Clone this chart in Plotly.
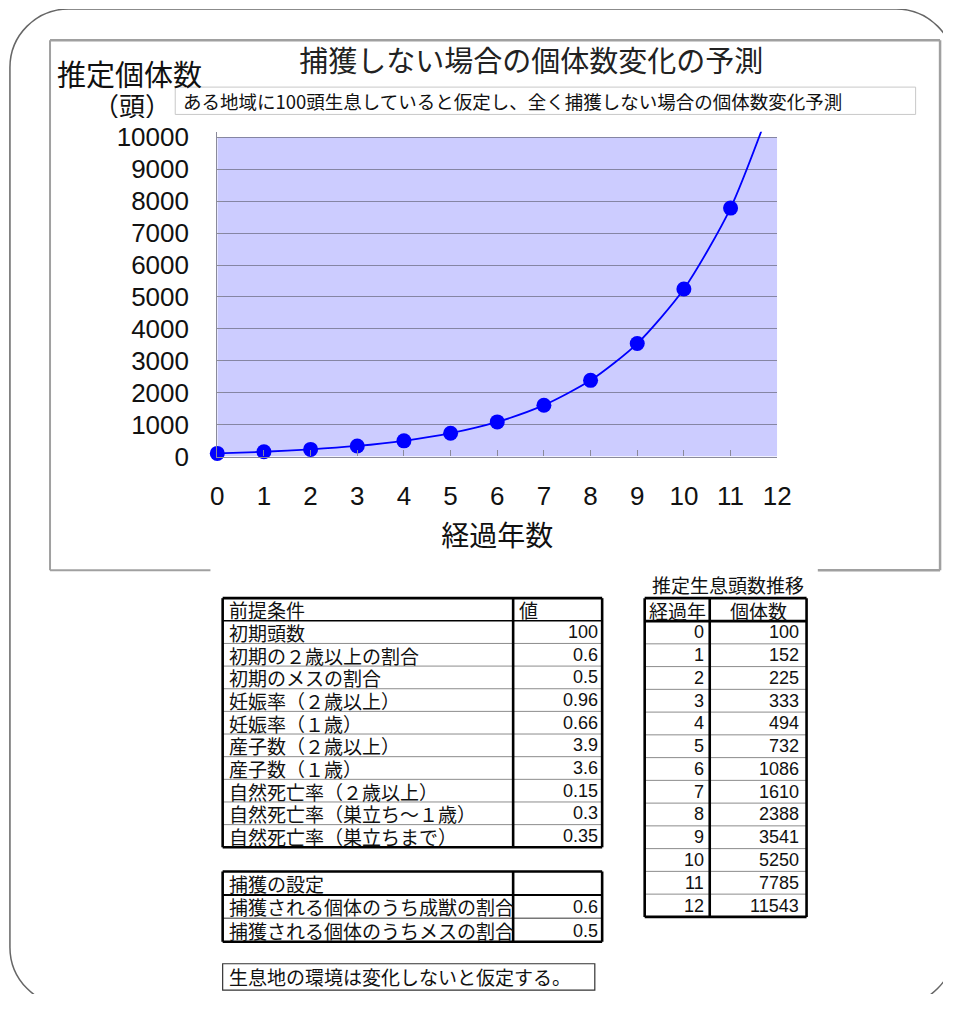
import plotly.graph_objects as go

# ---------------- data ----------------
years = list(range(13))
population = [100, 152, 225, 333, 494, 732, 1086, 1610, 2388, 3541, 5250, 7785, 11543]
y_ticks = list(range(0, 10001, 1000))
y_ticktext = [str(v) for v in y_ticks]

chart_title = "捕獲しない場合の個体数変化の予測"
chart_subtitle = "ある地域に100頭生息していると仮定し、全く捕獲しない場合の個体数変化予測"
y_title_1 = "推定個体数"
y_title_2 = "（頭）"
x_title = "経過年数"

cond_header = ["前提条件", "値"]
cond_labels = ["初期頭数", "初期の２歳以上の割合", "初期のメスの割合", "妊娠率（２歳以上）",
               "妊娠率（１歳）", "産子数（２歳以上）", "産子数（１歳）", "自然死亡率（２歳以上）",
               "自然死亡率（巣立ち～１歳）", "自然死亡率（巣立ちまで）"]
cond_values = [100, 0.6, 0.5, 0.96, 0.66, 3.9, 3.6, 0.15, 0.3, 0.35]

capture_header = "捕獲の設定"
capture_labels = ["捕獲される個体のうち成獣の割合", "捕獲される個体のうちメスの割合"]
capture_values = [0.6, 0.5]

note_text = "生息地の環境は変化しないと仮定する。"
trend_title = "推定生息頭数推移"
trend_header = ["経過年", "個体数"]

# ---------------- styling ----------------
OFF = 8                      # page body margin
W, H = 973 - 2 * OFF, 1025 - 2 * OFF
JP = "Noto Sans CJK JP"
NUM = "Liberation Sans"
Y_TOP = 10180
px_left, px_right = 223, 795.5
px_bottom = 466.5
px_top = px_bottom - Y_TOP * (327.0 / 10000)


def fx(px):
    return (px - OFF) / W


def fy(py):
    return 1 - (py - OFF) / H


fig = go.Figure()

fig.add_trace(go.Scatter(
    x=years, y=population, mode="lines",
    line=dict(color="#0000ff", width=1.8, shape="spline", smoothing=0.7),
    hoverinfo="skip", showlegend=False))
vis_x = [x for x, v in zip(years, population) if v <= y_ticks[-1]]
vis_y = [v for v in population if v <= y_ticks[-1]]
fig.add_trace(go.Scatter(
    x=vis_x, y=vis_y, mode="markers", cliponaxis=False,
    marker=dict(color="#0000ff", size=15, line=dict(width=0)),
    hoverinfo="skip", showlegend=False))

shapes = []
annotations = []

shapes.append(dict(type="rect", xref="x", yref="y", x0=0, x1=12, y0=0, y1=y_ticks[-1],
                   fillcolor="#ccccff", line=dict(width=0), layer="below"))


def pline(x0, y0, x1, y1, color, width):
    shapes.append(dict(type="line", xref="x2", yref="y2", x0=x0, y0=y0, x1=x1, y1=y1,
                       line=dict(color=color, width=width), layer="above"))


def text(x, y, s, size=19, anchor="left", family=JP, color="#111", h=None):
    a = dict(xref="x2", yref="y2", x=x, y=y, text=s, showarrow=False,
             xanchor=anchor, yanchor="middle", valign="middle",
             font=dict(family=family, size=size, color=color))
    if h is not None:
        a["height"] = h
    annotations.append(a)


# outer rounded frame
L, T, R, B, r = 11, 8, 977, 1029, 60
k = 0.5523 * r
path = (f"M {L+r},{T} L {R-r},{T} C {R-r+k},{T} {R},{T+r-k} {R},{T+r} "
        f"L {R},{B-r} C {R},{B-r+k} {R-r+k},{B} {R-r},{B} "
        f"L {L+r},{B} C {L+r-k},{B} {L},{B-r+k} {L},{B-r} "
        f"L {L},{T+r} C {L},{T+r-k} {L+r-k},{T} {L+r},{T} Z")
shapes.append(dict(type="path", xref="x2", yref="y2", path=path,
                   line=dict(color="#666", width=1.5), layer="above"))

# chart frame
fc = "#a0a0a0"
pline(52, 40, 962, 40, fc, 2.5)
pline(52, 40, 52, 583, fc, 2)
pline(962, 40, 962, 583, fc, 2.5)
pline(52, 583, 216, 583, fc, 2)
pline(837, 583, 962, 583, fc, 2.5)

# subtitle box
shapes.append(dict(type="rect", xref="x2", yref="y2", x0=180, x1=937, y0=88, y1=116,
                   line=dict(color="#c8c8c8", width=1), layer="above"))
text(186, 102, chart_subtitle, size=18.5, h=26)
text(57, 74, y_title_1, size=29, h=34)
text(136, 105, y_title_2, size=26, anchor="center", h=28)

# ---- conditions table ----
tl, td, tr = 228.5, 525.5, 616.5
top = 611.5
rh = 23.2
rows = [cond_header] + [[a, str(v)] for a, v in zip(cond_labels, cond_values)]
for i, row in enumerate(rows):
    yc = top + rh * (i + 0.5)
    text(tl + 4, yc, row[0], size=19, h=rh - 1)
    if i == 0:
        text(td + 4, yc, row[1], size=19, h=rh - 1)
    else:
        text(tr - 2, yc, row[1], size=18, anchor="right", family=NUM, h=rh - 1)
    if i > 0:
        pline(tl, top + rh * i, tr, top + rh * i, "#000" if i == 1 else "#8c8c8c", 1.6 if i == 1 else 1)
bot = top + rh * len(rows)
for (x0, y0, x1, y1) in [(tl, top, tr, top), (tl, bot, tr, bot), (tl, top, tl, bot),
                         (tr, top, tr, bot), (td, top, td, bot)]:
    pline(x0, y0, x1, y1, "#000", 2.6)

# ---- capture table ----
top2 = 891.5
rh2 = 24
rows2 = [[capture_header, ""]] + [[a, str(v)] for a, v in zip(capture_labels, capture_values)]
for i, row in enumerate(rows2):
    yc = top2 + rh2 * (i + 0.5)
    text(tl + 4, yc, row[0], size=19, h=rh2 - 1)
    if row[1]:
        text(tr - 2, yc, row[1], size=18, anchor="right", family=NUM, h=rh2 - 1)
    if i > 0:
        pline(tl, top2 + rh2 * i, tr, top2 + rh2 * i, "#000" if i == 1 else "#777", 2 if i == 1 else 1.5)
bot2 = top2 + rh2 * len(rows2)
for (x0, y0, x1, y1) in [(tl, top2, tr, top2), (tl, bot2, tr, bot2), (tl, top2, tl, bot2),
                         (tr, top2, tr, bot2), (td, top2, td, bot2)]:
    pline(x0, y0, x1, y1, "#000", 2.6)

# ---- note box ----
shapes.append(dict(type="rect", xref="x2", yref="y2", x0=228.5, x1=609, y0=986, y1=1013,
                   line=dict(color="#333", width=1.2), layer="above"))
text(233, 999.5, note_text, size=19, h=25)

# ---- trend table ----
rl, rd, rr = 660, 726.5, 825.5
rtop, rhead = 611.5, 635
rh3 = (938 - rhead) / len(years)
text(745, 597, trend_title, size=19, anchor="center", h=22)
text((rl + rd) / 2, (rtop + rhead) / 2, trend_header[0], size=19, anchor="center", h=22)
text((rd + rr) / 2, (rtop + rhead) / 2, trend_header[1], size=19, anchor="center", h=22)
for i, (yr, p) in enumerate(zip(years, population)):
    yc = rhead + rh3 * (i + 0.5)
    text(rd - 4, yc, str(yr), size=18, anchor="right", family=NUM, h=rh3 - 1)
    text(rr - 6, yc, str(p), size=18, anchor="right", family=NUM, h=rh3 - 1)
    if i > 0:
        pline(rl, rhead + rh3 * i, rr, rhead + rh3 * i, "#8c8c8c", 1)
rbot = rhead + rh3 * len(years)
for (x0, y0, x1, y1) in [(rl, rtop, rr, rtop), (rl, rbot, rr, rbot), (rl, rtop, rl, rbot),
                         (rr, rtop, rr, rbot), (rd, rtop, rd, rbot), (rl, rhead, rr, rhead)]:
    pline(x0, y0, x1, y1, "#000", 2.6)

axis_gray = "#8a8a9a"
fig.update_layout(
    width=W, height=H, margin=dict(l=0, r=0, t=0, b=0),
    paper_bgcolor="white", plot_bgcolor="rgba(0,0,0,0)", showlegend=False,
    title=dict(text=chart_title, x=fx(544), y=fy(62), xanchor="center", yanchor="middle",
               xref="paper", yref="paper", font=dict(family=JP, size=29, color="#222")),
    xaxis=dict(domain=[fx(px_left), fx(px_right)], range=[0, 12], tickvals=years,
               ticks="inside", ticklen=6, tickcolor=axis_gray, showline=True, linecolor=axis_gray,
               linewidth=1.2, showgrid=False, zeroline=False, ticklabelstandoff=16,
               tickfont=dict(family=NUM, size=26, color="#111"),
               title=dict(text=x_title, standoff=16, font=dict(family=JP, size=28, color="#111"))),
    yaxis=dict(domain=[fy(px_bottom), fy(px_top)], range=[0, Y_TOP], tickvals=y_ticks,
               ticktext=y_ticktext,
               ticks="inside", ticklen=6, tickcolor=axis_gray, showline=True, linecolor=axis_gray,
               linewidth=1.2, showgrid=True, gridcolor="#8585a3", gridwidth=1, zeroline=False,
               ticklabelstandoff=22, tickfont=dict(family=NUM, size=26, color="#111")),
    xaxis2=dict(domain=[0, 1], range=[OFF, OFF + W], anchor="y2", visible=False, fixedrange=True),
    yaxis2=dict(domain=[0, 1], range=[OFF + H, OFF], anchor="x2", visible=False, fixedrange=True),
    shapes=shapes, annotations=annotations,
)

fig.write_html("out.html")
